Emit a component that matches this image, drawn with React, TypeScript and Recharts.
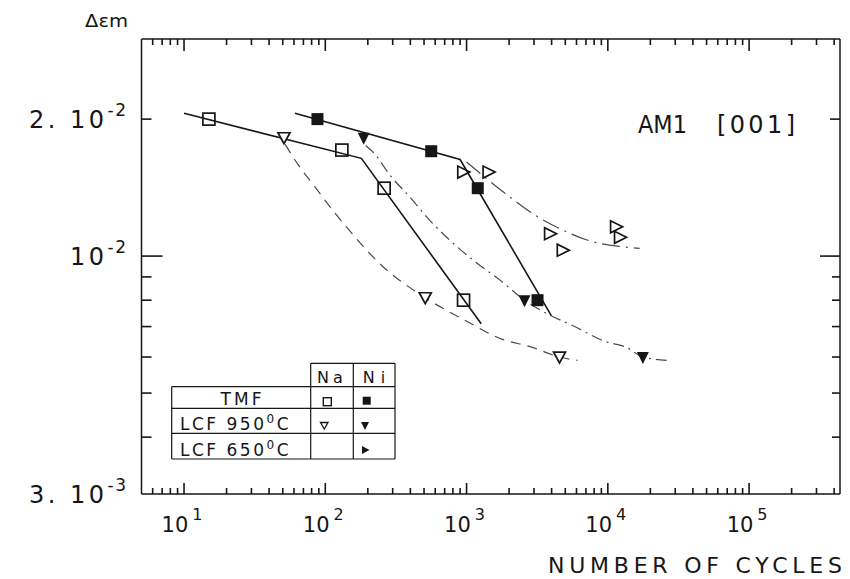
import React from 'react';
import { ComposedChart, XAxis, YAxis, Scatter, Line } from 'recharts';

const FONT = '"DejaVu Sans", "Liberation Sans", sans-serif';
const INK = '#161616';
const DASH_INK = '#4a4a4a';

// ---- axes ----
const X_DOMAIN = [5, 440000];
const Y_DOMAIN = [0.003, 0.03];
const xTicks = [
  6, 7, 8, 9, 10, 20, 30, 40, 50, 60, 70, 80, 90, 100, 200, 300, 400, 500, 600, 700, 800, 900,
  1000, 2000, 3000, 4000, 5000, 6000, 7000, 8000, 9000, 10000, 20000, 30000, 40000, 50000, 60000,
  70000, 80000, 90000, 100000, 200000, 300000, 400000,
];
const xLabelValues = [10, 100, 1000, 10000, 100000];
const xLabelExps = ['1', '2', '3', '4', '5'];
const yTicks = [0.003, 0.004, 0.005, 0.006, 0.007, 0.008, 0.009, 0.01, 0.02];
const yLabelValues = [0.003, 0.01, 0.02];
const yLabelBases = ['3. 10', '10', '2. 10'];
const yLabelExps = ['-3', '-2', '-2'];

// ---- measured points ----
const tmfNaX = [15, 131, 261, 952];
const tmfNaY = [0.02, 0.0171, 0.0141, 0.008];
const tmfNiX = [88, 562, 1200, 3180];
const tmfNiY = [0.02, 0.017, 0.0141, 0.008];
const lcf950NaX = [51, 510, 4550];
const lcf950NaY = [0.0182, 0.0081, 0.006];
const lcf950NiX = [187, 2570, 17700];
const lcf950NiY = [0.0182, 0.008, 0.006];
const lcf650NiX = [940, 1420, 3870, 4760, 11350, 12100];
const lcf650NiY = [0.0153, 0.0153, 0.0112, 0.0103, 0.0116, 0.011];

// ---- fitted curves ----
const tmfNaFitX = [10, 180, 1270];
const tmfNaFitY = [0.0206, 0.0164, 0.0071];
const tmfNiFitX = [61, 900, 3980];
const tmfNiFitY = [0.0206, 0.0163, 0.0074];
const lcf950NaFitX = [52, 64, 83, 113, 144, 254, 510, 995, 1710, 2930, 4550, 6100];
const lcf950NaFitY = [0.0176, 0.0159, 0.0143, 0.0126, 0.0115, 0.0095, 0.0081, 0.0072, 0.0066, 0.0063, 0.006, 0.0059];
const lcf950NiFitX = [193, 223, 285, 395, 547, 770, 1160, 1770, 2570, 3630, 5820, 9480, 13570, 17700, 26060];
const lcf950NiFitY = [0.0175, 0.0168, 0.0151, 0.0135, 0.012, 0.0108, 0.0097, 0.0088, 0.008, 0.0075, 0.007, 0.0065, 0.0063, 0.006, 0.0059];
const lcf650NiFitX = [1000, 1385, 2016, 2934, 4550, 7430, 12100, 16780];
const lcf650NiFitY = [0.0161, 0.0148, 0.0135, 0.0124, 0.0115, 0.0108, 0.0105, 0.0104];

const pts = (xs: number[], ys: number[]) => xs.map((x, i) => ({ x, y: ys[i] }));
const same = (a: number, b: number) => Math.abs(a - b) / b < 1e-6;
const txt = { fontFamily: FONT, fill: INK };

const Mark = ({ x1, y1, x2, y2 }: { x1: number; y1: number; x2: number; y2: number }) => (
  <line x1={x1} y1={y1} x2={x2} y2={y2} stroke={INK} strokeWidth={1.6} />
);

// ---- axis tick renderers: inward tick marks + labels ----
const BottomTick = (p: any) => {
  const x = Number(p.x);
  const y = Number(p.y);
  const i = xLabelValues.findIndex((d) => same(Number(p.payload.value), d));
  return (
    <g>
      <Mark x1={x} x2={x} y1={y} y2={y - (i >= 0 ? 11 : 6)} />
      {i >= 0 && (
        <text x={x - 2} y={y + 38} textAnchor="middle" fontSize={21} {...txt}>
          10
          <tspan dx={4} dy={-12} fontSize={16}>
            {xLabelExps[i]}
          </tspan>
        </text>
      )}
    </g>
  );
};

const TopTick = (p: any) => {
  const x = Number(p.x);
  const y = Number(p.y);
  const major = xLabelValues.some((d) => same(Number(p.payload.value), d));
  return (
    <g>
      <Mark x1={x} x2={x} y1={y} y2={y + (major ? 12 : 6)} />
    </g>
  );
};

const LeftTick = (p: any) => {
  const x = Number(p.x);
  const y = Number(p.y);
  const v = Number(p.payload.value);
  const i = yLabelValues.findIndex((d) => same(v, d));
  const len = same(v, 0.01) ? 21 : same(v, 0.003) ? 0 : 10;
  return (
    <g>
      {len > 0 && <Mark x1={x} x2={x + len} y1={y} y2={y} />}
      {i >= 0 && (
        <text x={x - 14} y={y + 9} textAnchor="end" fontSize={24} letterSpacing={3.5} {...txt}>
          {yLabelBases[i]}
          <tspan dx={0} dy={-12} fontSize={17} letterSpacing={1.5}>
            {yLabelExps[i]}
          </tspan>
        </text>
      )}
    </g>
  );
};

const RightTick = (p: any) => {
  const x = Number(p.x);
  const y = Number(p.y);
  const v = Number(p.payload.value);
  const len = same(v, 0.01) ? 20 : same(v, 0.02) ? 10 : same(v, 0.003) ? 0 : 8;
  return <g>{len > 0 && <Mark x1={x} x2={x - len} y1={y} y2={y} />}</g>;
};

// ---- marker shapes ----
const OpenSquare = (p: any) => (
  <rect x={p.cx - 6} y={p.cy - 6} width={12} height={12} fill="none" stroke={INK} strokeWidth={1.7} />
);
const FilledSquare = (p: any) => <rect x={p.cx - 6} y={p.cy - 6} width={12} height={12} fill={INK} />;
const OpenDown = (p: any) => (
  <polygon
    points={`${p.cx - 6},${p.cy - 5} ${p.cx + 6},${p.cy - 5} ${p.cx},${p.cy + 6}`}
    fill="#fff"
    stroke={INK}
    strokeWidth={1.7}
  />
);
const FilledDown = (p: any) => (
  <polygon points={`${p.cx - 6},${p.cy - 5} ${p.cx + 6},${p.cy - 5} ${p.cx},${p.cy + 7}`} fill={INK} />
);
const OpenRight = (p: any) => (
  <polygon
    points={`${p.cx - 5},${p.cy - 6} ${p.cx - 5},${p.cy + 6} ${p.cx + 7},${p.cy}`}
    fill="none"
    stroke={INK}
    strokeWidth={1.7}
  />
);

const axisLine = { stroke: INK, strokeWidth: 1.5 };

export default function App() {
  const common = { xAxisId: 'b', yAxisId: 'l', isAnimationActive: false };
  const axisCommon = { type: 'number' as const, scale: 'log' as const, allowDataOverflow: true, interval: 0, tickSize: 0, tickMargin: 0, tickLine: false, axisLine };
  return (
    <div style={{ position: 'absolute', left: 0, top: 0, width: 850, height: 579, background: '#fff' }}>
      <ComposedChart width={850} height={579} margin={{ top: 0, right: 0, bottom: 0, left: 0 }}>
        <XAxis xAxisId="b" dataKey="x" {...axisCommon} domain={X_DOMAIN} ticks={xTicks} tick={(p: any) => <BottomTick {...p} />} height={85} orientation="bottom" />
        <XAxis xAxisId="t" dataKey="x" {...axisCommon} domain={X_DOMAIN} ticks={xTicks} tick={(p: any) => <TopTick {...p} />} height={39} orientation="top" />
        <YAxis yAxisId="l" dataKey="y" {...axisCommon} domain={Y_DOMAIN} ticks={yTicks} tick={(p: any) => <LeftTick {...p} />} width={141.5} orientation="left" />
        <YAxis yAxisId="r" dataKey="y" {...axisCommon} domain={Y_DOMAIN} ticks={yTicks} tick={(p: any) => <RightTick {...p} />} width={10} orientation="right" />

        <Line {...common} data={pts(lcf950NaFitX, lcf950NaFitY)} dataKey="y" type="monotone" stroke={DASH_INK} strokeWidth={1.2} strokeDasharray="10 7" dot={false} activeDot={false} />
        <Line {...common} data={pts(lcf950NiFitX, lcf950NiFitY)} dataKey="y" type="monotone" stroke={DASH_INK} strokeWidth={1.2} strokeDasharray="11 5 2 5" dot={false} activeDot={false} />
        <Line {...common} data={pts(lcf650NiFitX, lcf650NiFitY)} dataKey="y" type="monotone" stroke={DASH_INK} strokeWidth={1.2} strokeDasharray="18 6 2 6" dot={false} activeDot={false} />
        <Line {...common} data={pts(tmfNaFitX, tmfNaFitY)} dataKey="y" type="linear" stroke={INK} strokeWidth={1.6} dot={false} activeDot={false} />
        <Line {...common} data={pts(tmfNiFitX, tmfNiFitY)} dataKey="y" type="linear" stroke={INK} strokeWidth={1.6} dot={false} activeDot={false} />

        <Scatter {...common} data={pts(tmfNaX, tmfNaY)} shape={(p: any) => <OpenSquare {...p} />} />
        <Scatter {...common} data={pts(tmfNiX, tmfNiY)} shape={(p: any) => <FilledSquare {...p} />} />
        <Scatter {...common} data={pts(lcf950NaX, lcf950NaY)} shape={(p: any) => <OpenDown {...p} />} />
        <Scatter {...common} data={pts(lcf950NiX, lcf950NiY)} shape={(p: any) => <FilledDown {...p} />} />
        <Scatter {...common} data={pts(lcf650NiX, lcf650NiY)} shape={(p: any) => <OpenRight {...p} />} />
      </ComposedChart>

      <svg width={850} height={579} style={{ position: 'absolute', left: 0, top: 0, pointerEvents: 'none' }}>
        <text x={85} y={27} fontSize={18} textLength={43} lengthAdjust="spacingAndGlyphs" {...txt}>Δεm</text>
        <text x={638} y={133} fontSize={24} textLength={49} lengthAdjust="spacingAndGlyphs" {...txt}>AM1</text>
        <text x={717} y={133} fontSize={24} textLength={78} lengthAdjust="spacing" {...txt}>[001]</text>
        <text x={548} y={573} fontSize={22} textLength={294} lengthAdjust="spacing" {...txt}>NUMBER OF CYCLES</text>

        {/* legend table */}
        <g stroke={INK} strokeWidth={1.2} fill="none">
          <line x1={310.7} x2={395} y1={363.3} y2={363.3} />
          <line x1={171.7} x2={395} y1={386.7} y2={386.7} />
          <line x1={171.7} x2={395} y1={408.3} y2={408.3} />
          <line x1={171.7} x2={395} y1={433.3} y2={433.3} />
          <line x1={171.7} x2={395} y1={459} y2={459} />
          <line x1={171.7} x2={171.7} y1={386.7} y2={459} />
          <line x1={310.7} x2={310.7} y1={363.3} y2={459} />
          <line x1={353.3} x2={353.3} y1={363.3} y2={459} />
          <line x1={395} x2={395} y1={363.3} y2={459} />
        </g>
        <text x={332} y={383} textAnchor="middle" fontSize={16} letterSpacing={4} {...txt}>Na</text>
        <text x={377} y={383} textAnchor="middle" fontSize={16} letterSpacing={6} {...txt}>Ni</text>
        <text x={242.5} y={405} textAnchor="middle" fontSize={17} letterSpacing={3} {...txt}>TMF</text>
        <text x={180} y={430} fontSize={17} letterSpacing={2.5} {...txt}>
          LCF  950<tspan dy={-7} fontSize={12}>0</tspan><tspan dy={7}>C</tspan>
        </text>
        <text x={180} y={456} fontSize={17} letterSpacing={2.5} {...txt}>
          LCF  650<tspan dy={-7} fontSize={12}>0</tspan><tspan dy={7}>C</tspan>
        </text>
        <rect x={323.3} y={397.7} width={8} height={8} fill="none" stroke={INK} strokeWidth={1.4} />
        <rect x={362.7} y={396.7} width={8} height={8} fill={INK} />
        <polygon points="320.5,422.5 328,422.5 324.3,429" fill="none" stroke={INK} strokeWidth={1.3} />
        <polygon points="361,422 369,422 365,430" fill={INK} />
        <polygon points="362,446 362,454 369.5,450" fill={INK} />
      </svg>
    </div>
  );
}
